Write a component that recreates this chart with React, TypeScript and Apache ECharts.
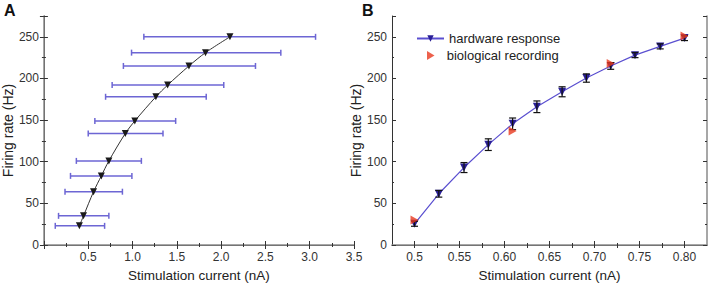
import React, { useEffect, useRef } from "react";
import * as echarts from "echarts";

// Panel A: firing rate vs stimulation current with horizontal spread
const aCurrent = [0.4, 0.447, 0.56, 0.648, 0.733, 0.919, 1.026, 1.264, 1.396, 1.637, 1.824, 2.1];
const aRate = [23, 35, 64, 83, 101, 134, 149, 178, 192, 215, 231, 250];
const aErrLow = [0.128, 0.165, 0.238, 0.3, 0.366, 0.5, 0.575, 0.696, 0.77, 0.897, 0.989, 1.128];
const aErrHigh = [0.685, 0.733, 0.886, 0.993, 1.1, 1.344, 1.487, 1.832, 2.03, 2.388, 2.674, 3.066];

// Panel B: hardware response vs biological recording
const bCurrent = [0.5, 0.527, 0.555, 0.582, 0.609, 0.636, 0.664, 0.691, 0.718, 0.745, 0.773, 0.8];
const bRate = [25.5, 61.5, 93, 120.5, 145.5, 166, 184, 200.5, 215, 228, 238.5, 248.5];
const bErr = [3, 4, 6, 7, 7, 7, 6, 5, 4, 3, 3, 3];
const bioCurrent = [0.5, 0.609, 0.718, 0.8];
const bioRate = [30, 137, 218, 251];

const yTicks = [0, 50, 100, 150, 200, 250];
const aXTicks = [0.5, 1.0, 1.5, 2.0, 2.5, 3.0, 3.5];
const bXTicks = [0.5, 0.55, 0.6, 0.65, 0.7, 0.75, 0.8];
const bXMinor = [0.525, 0.575, 0.625, 0.675, 0.725, 0.775];

const FONT = "'Liberation Sans', Arial, sans-serif";
const DARK = "#333";
const LIGHT = "#8a8a8a";

export default function App() {
  const ref = useRef<HTMLDivElement>(null);
  useEffect(() => {
    if (!ref.current) return;
    const chart = echarts.init(ref.current, undefined, { renderer: "svg" });

    const nameStyle = { fontSize: 13.5, color: "#222", fontFamily: FONT };
    const labelStyle = { fontSize: 12, color: "#333", fontFamily: FONT };

    const yAxisBase = (grid: number) => ({
      type: "value",
      gridIndex: grid,
      min: 0,
      max: 275,
      interval: 50,
      position: "left",
      name: "Firing rate (Hz)",
      nameLocation: "middle",
      nameGap: 27,
      nameTextStyle: { ...nameStyle, fontSize: 14 },
      axisLine: { show: true, lineStyle: { color: DARK, width: 1 } },
      axisTick: { show: true, inside: true, length: 4, lineStyle: { color: DARK } },
      minorTick: { show: true, splitNumber: 2, length: 2, lineStyle: { color: DARK } },
      axisLabel: { ...labelStyle, margin: 5, customValues: yTicks },
      splitLine: { show: false },
      minorSplitLine: { show: false },
    });
    const yAxisRight = (grid: number) => ({
      type: "value",
      gridIndex: grid,
      min: 0,
      max: 275,
      interval: 50,
      position: "right",
      axisLine: { show: true, lineStyle: { color: LIGHT, width: 1.5 } },
      axisTick: { show: true, inside: true, length: 4, lineStyle: { color: DARK } },
      minorTick: { show: true, splitNumber: 2, length: 2, lineStyle: { color: DARK } },
      axisLabel: { show: false },
      splitLine: { show: false },
    });

    const legendText = { fontSize: 13, color: "#222", fontFamily: FONT };

    const option: any = {
      animation: false,
      textStyle: { fontFamily: FONT },
      grid: [
        { left: 37, right: 355, top: 16, bottom: 35 },
        { left: 392, right: 2, top: 16, bottom: 35 },
      ],
      legend: [
        {
          left: 411,
          top: 27,
          itemWidth: 27,
          itemHeight: 8,
          textStyle: legendText,
          data: ["hardware response"],
        },
        {
          left: 422,
          top: 44,
          itemWidth: 8,
          itemHeight: 9,
          textStyle: { ...legendText, padding: [0, 0, 0, 7] },
          data: [{ name: "biological recording", icon: "path://M0,0L10,6L0,12Z" }],
        },
      ],
      graphic: [
        { type: "text", left: 4, top: 2, style: { text: "A", font: `bold 16px ${FONT}`, fill: "#111" } },
        { type: "text", left: 362, top: 2, style: { text: "B", font: `bold 16px ${FONT}`, fill: "#111" } },
      ],
      xAxis: [
        {
          type: "value",
          gridIndex: 0,
          min: 0,
          max: 3.5,
          interval: 0.5,
          position: "bottom",
          name: "Stimulation current (nA)",
          nameLocation: "middle",
          nameGap: 23,
          nameTextStyle: nameStyle,
          axisLine: { show: true, lineStyle: { color: DARK, width: 1 } },
          axisTick: { show: true, inside: true, length: 4, lineStyle: { color: DARK } },
          minorTick: { show: true, splitNumber: 2, length: 2, lineStyle: { color: DARK } },
          axisLabel: {
            ...labelStyle,
            margin: 6,
            customValues: aXTicks,
            formatter: (v: number) => v.toFixed(1),
          },
          splitLine: { show: false },
        },
        {
          type: "value",
          gridIndex: 0,
          min: 0,
          max: 3.5,
          interval: 0.5,
          position: "top",
          axisLine: { show: true, lineStyle: { color: LIGHT, width: 1.5 } },
          axisTick: { show: true, inside: true, length: 4, lineStyle: { color: DARK } },
          minorTick: { show: true, splitNumber: 2, length: 2, lineStyle: { color: DARK } },
          axisLabel: { show: false },
          splitLine: { show: false },
        },
        {
          type: "value",
          gridIndex: 1,
          min: 0.475,
          max: 0.825,
          interval: 0.025,
          position: "bottom",
          name: "Stimulation current (nA)",
          nameLocation: "middle",
          nameGap: 23,
          nameTextStyle: nameStyle,
          axisLine: { show: true, lineStyle: { color: DARK, width: 1 } },
          axisTick: { show: true, inside: true, length: 4, customValues: bXTicks, lineStyle: { color: DARK } },
          axisLabel: {
            ...labelStyle,
            margin: 6,
            customValues: bXTicks,
            formatter: (v: number) => {
              const r = Math.round(v * 100) / 100;
              return r === 0.5 ? "0.5" : r.toFixed(2);
            },
          },
          splitLine: { show: false },
        },
        {
          type: "value",
          gridIndex: 1,
          min: 0.475,
          max: 0.825,
          interval: 0.025,
          position: "top",
          axisLine: { show: true, lineStyle: { color: LIGHT, width: 1.5 } },
          axisTick: { show: true, inside: true, length: 3, customValues: [...bXTicks, ...bXMinor], lineStyle: { color: DARK } },
          axisLabel: { show: false },
          splitLine: { show: false },
        },
        {
          type: "value",
          gridIndex: 1,
          min: 0.475,
          max: 0.825,
          interval: 0.025,
          position: "bottom",
          axisLine: { show: false },
          axisTick: { show: true, inside: true, length: 2, customValues: bXMinor, lineStyle: { color: DARK } },
          axisLabel: { show: false },
          splitLine: { show: false },
        },
      ],
      yAxis: [yAxisBase(0), yAxisRight(0), yAxisBase(1), yAxisRight(1)],
      series: [
        {
          type: "custom",
          name: "A spread",
          xAxisIndex: 0,
          yAxisIndex: 0,
          data: aRate.map((r, i) => [r, aErrLow[i], aErrHigh[i]]),
          encode: { x: [1, 2], y: 0 },
          z: 1,
          renderItem: (params: any, api: any) => {
            const y = api.value(0);
            const p1 = api.coord([api.value(1), y]);
            const p2 = api.coord([api.value(2), y]);
            const c = 3;
            const st = { stroke: "#6d66d4", lineWidth: 1.5 };
            return {
              type: "group",
              children: [
                { type: "line", shape: { x1: p1[0], y1: p1[1], x2: p2[0], y2: p2[1] }, style: st },
                { type: "line", shape: { x1: p1[0], y1: p1[1] - c, x2: p1[0], y2: p1[1] + c }, style: st },
                { type: "line", shape: { x1: p2[0], y1: p2[1] - c, x2: p2[0], y2: p2[1] + c }, style: st },
              ],
            };
          },
        },
        {
          type: "line",
          name: "A mean",
          xAxisIndex: 0,
          yAxisIndex: 0,
          data: aCurrent.map((x, i) => [x, aRate[i]]),
          smooth: 0.3,
          symbol: "triangle",
          symbolRotate: 180,
          symbolSize: 7,
          lineStyle: { color: "#333", width: 1 },
          itemStyle: { color: "#1a1a1a" },
          z: 3,
        },
        {
          type: "line",
          name: "hardware response",
          xAxisIndex: 2,
          yAxisIndex: 2,
          data: bCurrent.map((x, i) => [x, bRate[i]]),
          symbol: "triangle",
          symbolRotate: 180,
          symbolSize: 8,
          lineStyle: { color: "#5a4fd0", width: 1.2 },
          itemStyle: { color: "#2a1f96" },
          z: 2,
        },
        {
          type: "custom",
          name: "B error",
          xAxisIndex: 2,
          yAxisIndex: 2,
          data: bCurrent.map((x, i) => [x, bRate[i] - bErr[i], bRate[i] + bErr[i]]),
          encode: { x: 0, y: [1, 2] },
          z: 3,
          renderItem: (params: any, api: any) => {
            const x = api.value(0);
            const p1 = api.coord([x, api.value(1)]);
            const p2 = api.coord([x, api.value(2)]);
            const c = 3.5;
            const st = { stroke: "#111", lineWidth: 1.2 };
            return {
              type: "group",
              children: [
                { type: "line", shape: { x1: p1[0], y1: p1[1], x2: p2[0], y2: p2[1] }, style: st },
                { type: "line", shape: { x1: p1[0] - c, y1: p1[1], x2: p1[0] + c, y2: p1[1] }, style: st },
                { type: "line", shape: { x1: p2[0] - c, y1: p2[1], x2: p2[0] + c, y2: p2[1] }, style: st },
              ],
            };
          },
        },
        {
          type: "scatter",
          name: "biological recording",
          xAxisIndex: 2,
          yAxisIndex: 2,
          data: bioCurrent.map((x, i) => [x, bioRate[i]]),
          symbol: "path://M0,0L10,6L0,12Z",
          symbolSize: [8, 9],
          itemStyle: { color: "#e8391f" },
          z: 4,
        },
      ],
    };
    chart.setOption(option);
    return () => chart.dispose();
  }, []);

  return (
    <div
      ref={ref}
      style={{ position: "absolute", left: 0, top: 0, width: 709, height: 287, background: "#fff" }}
    />
  );
}
